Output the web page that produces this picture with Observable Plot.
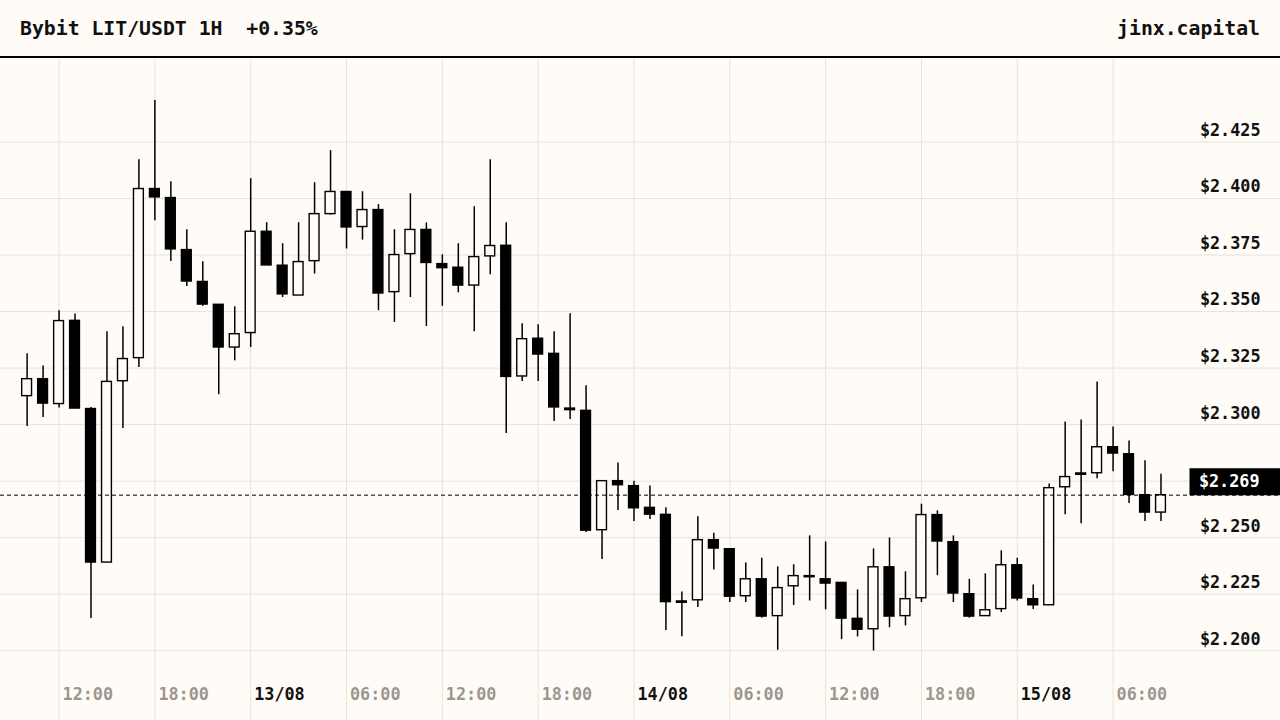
<!DOCTYPE html>
<html><head><meta charset="utf-8">
<script src="https://cdn.jsdelivr.net/npm/d3@7"></script>
<script src="https://cdn.jsdelivr.net/npm/@observablehq/plot@0.6"></script>
<style>
html,body{margin:0;padding:0;background:#fffcf7;width:1280px;height:720px;overflow:hidden}
#header{height:56px;border-bottom:2px solid #000;display:flex;justify-content:space-between;align-items:center;padding:0 20px;font-family:"DejaVu Sans Mono",monospace;font-weight:bold;font-size:19.8px;color:#111;white-space:pre}
#chart svg{display:block}
</style></head><body>
<div id="header"><span id="title"></span><span id="brand"></span></div>
<div id="chart"></div>
<script>
const titleText = "Bybit LIT/USDT 1H  +0.35%";
const brandText = "jinx.capital";

// hourly candles, 12/08 10:00 -> 15/08 09:00
const startTime = "2025-08-12T10:00Z";
const open  = [2.3126,2.3201,2.3091,2.3459,2.3069,2.2390,2.3192,2.3294,2.4042,2.4002,2.3772,2.3631,2.3530,2.3341,2.3405,2.3853,2.3703,2.3571,2.3723,2.3931,2.4029,2.3874,2.3949,2.3586,2.3754,2.3861,2.3710,2.3694,2.3615,2.3744,2.3791,2.3213,2.3380,2.3313,2.3071,2.3061,2.2533,2.2750,2.2728,2.2632,2.2601,2.2218,2.2223,2.2489,2.2449,2.2241,2.2316,2.2153,2.2285,2.2330,2.2316,2.2300,2.2141,2.2095,2.2369,2.2153,2.2232,2.2600,2.2480,2.2250,2.2153,2.2184,2.2378,2.2228,2.2201,2.2723,2.2784,2.2785,2.2900,2.2869,2.2688,2.2611];
const high  = [2.3313,2.3259,2.3504,2.3489,2.3076,2.3411,2.3433,2.4172,2.4433,2.4074,2.3862,2.3720,2.3530,2.3521,2.4088,2.3893,2.3800,2.3893,2.4070,2.4212,2.4030,2.4030,2.3973,2.3862,2.4021,2.3892,2.3751,2.3800,2.3964,2.4172,2.3893,2.3446,2.3442,2.3411,2.3490,2.3172,2.2750,2.2830,2.2750,2.2728,2.2632,2.2260,2.2592,2.2520,2.2449,2.2388,2.2409,2.2371,2.2380,2.2508,2.2481,2.2300,2.2269,2.2450,2.2499,2.2349,2.2648,2.2619,2.2508,2.2316,2.2340,2.2442,2.2409,2.2291,2.2737,2.3012,2.3021,2.3189,2.2990,2.2928,2.2840,2.2781];
const low   = [2.2992,2.3031,2.3073,2.3071,2.2142,2.2390,2.2983,2.3253,2.3902,2.3722,2.3611,2.3523,2.3132,2.3282,2.3341,2.3704,2.3562,2.3571,2.3666,2.3927,2.3777,2.3816,2.3504,2.3452,2.3562,2.3434,2.3523,2.3583,2.3411,2.3663,2.2961,2.3191,2.3191,2.3014,2.3023,2.2523,2.2403,2.2620,2.2571,2.2580,2.2089,2.2062,2.2191,2.2357,2.2213,2.2213,2.2144,2.2002,2.2200,2.2220,2.2181,2.2049,2.2061,2.1999,2.2102,2.2110,2.2213,2.2332,2.2213,2.2144,2.2153,2.2169,2.2220,2.2182,2.2201,2.2601,2.2562,2.2761,2.2792,2.2651,2.2571,2.2571];
const close = [2.3201,2.3093,2.3458,2.3071,2.2390,2.3189,2.3290,2.4042,2.4005,2.3775,2.3633,2.3531,2.3341,2.3400,2.3853,2.3704,2.3576,2.3719,2.3931,2.4029,2.3872,2.3949,2.3580,2.3750,2.3861,2.3715,2.3692,2.3615,2.3741,2.3790,2.3211,2.3378,2.3310,2.3076,2.3064,2.2531,2.2750,2.2732,2.2630,2.2602,2.2215,2.2212,2.2489,2.2452,2.2239,2.2316,2.2151,2.2277,2.2330,2.2325,2.2297,2.2142,2.2093,2.2369,2.2151,2.2228,2.2600,2.2483,2.2253,2.2151,2.2179,2.2378,2.2231,2.2201,2.2719,2.2768,2.2778,2.2900,2.2872,2.2689,2.2611,2.2688];

const yTicks = [2.200,2.225,2.250,2.275,2.300,2.325,2.350,2.375,2.400,2.425];
const xTickTimes  = ["2025-08-12T12:00Z","2025-08-12T18:00Z","2025-08-13T00:00Z","2025-08-13T06:00Z","2025-08-13T12:00Z","2025-08-13T18:00Z","2025-08-14T00:00Z","2025-08-14T06:00Z","2025-08-14T12:00Z","2025-08-14T18:00Z","2025-08-15T00:00Z","2025-08-15T06:00Z"];
const xTickLabels = ["12:00","18:00","13/08","06:00","12:00","18:00","14/08","06:00","12:00","18:00","15/08","06:00"];

const xDomain = [new Date("2025-08-12T08:20Z"), new Date("2025-08-15T16:29Z")];
const yDomain = [2.16914, 2.46193];

const BG = "#fffcf7", GRID = "#e6e2dc", GREY = "#9c968e", INK = "#111";

document.getElementById("title").textContent = titleText;
document.getElementById("brand").textContent = brandText;

const t0 = new Date(startTime);
const candles = open.map((o, i) => ({
  t: d3.utcHour.offset(t0, i), open: o, high: high[i], low: low[i], close: close[i]
}));
const last = candles[candles.length - 1];
const ticks = xTickTimes.map((s, i) => ({t: new Date(s), label: xTickLabels[i], isDate: xTickLabels[i].includes("/")}));
// price labels hidden where the last-price tag sits
const yLabelTicks = yTicks.filter(v => Math.abs(v - last.close) > 0.01);
const HALF = 18.5 * 60e3;

const chart = Plot.plot({
  width: 1280, height: 662, margin: 0,
  style: {background: "transparent", fontFamily: "'DejaVu Sans Mono', monospace", fontWeight: "bold", overflow: "visible"},
  x: {type: "utc", domain: xDomain, axis: null},
  y: {domain: yDomain, axis: null},
  color: {type: "identity"},
  marks: [
    Plot.gridX(ticks.map(d => d.t), {stroke: GRID, strokeOpacity: 1, strokeWidth: 1}),
    Plot.gridY(yTicks, {stroke: GRID, strokeOpacity: 1, strokeWidth: 1}),
    Plot.ruleX(candles, {x: "t", y1: "low", y2: "high", stroke: "#000", strokeWidth: 1.5}),
    Plot.rect(candles, {
      x1: d => new Date(+d.t - HALF), x2: d => new Date(+d.t + HALF),
      y1: "open", y2: "close",
      fill: d => d.close >= d.open ? BG : "#000",
      stroke: "#000", strokeWidth: 1.4
    }),
    Plot.ruleY([last], {y: "close", stroke: "#000", strokeWidth: 1, strokeDasharray: "4,3"}),
    Plot.text(yLabelTicks, {y: d => d, text: d => "$" + d.toFixed(3), frameAnchor: "right", textAnchor: "end", dx: -20, dy: -11.5, fontSize: 16.8, fill: INK}),
    Plot.ruleY([last], {y: "close", x1: d => d3.utcMinute.offset(d.t, 109), x2: () => xDomain[1], stroke: "#000", strokeWidth: 27, dy: -13.5}),
    Plot.text([last], {y: "close", text: d => "$" + d.close.toFixed(3), frameAnchor: "right", textAnchor: "end", dx: -21, dy: -14, fontSize: 16.8, fill: "#fff"}),
    Plot.text(ticks, {x: "t", text: "label", frameAnchor: "bottom", textAnchor: "start", dx: 3.5, dy: -21, fontSize: 16.8, fill: d => d.isDate ? INK : GREY})
  ]
});
document.getElementById("chart").appendChild(chart);
</script>
</body></html>
